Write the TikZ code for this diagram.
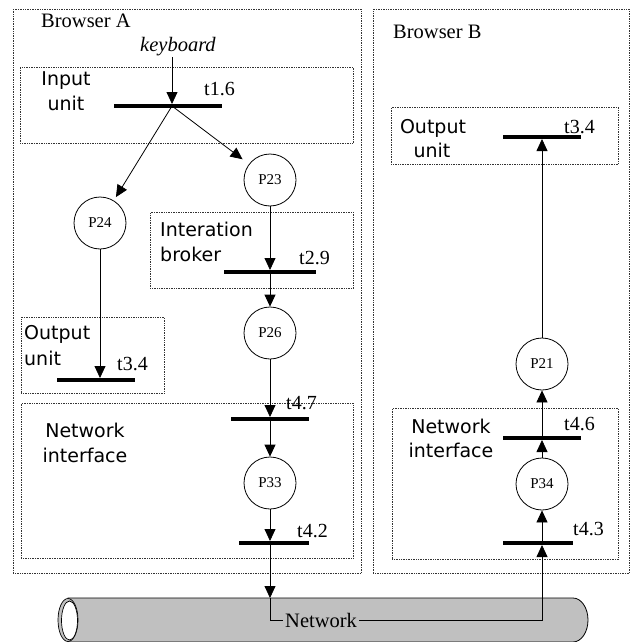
\documentclass[tikz,border=0pt]{standalone}
\usepackage{fontspec}
\setmainfont{Liberation Serif}
\newfontfamily\dvsans{DejaVu Sans}
\usetikzlibrary{arrows.meta}
\begin{document}
\begin{tikzpicture}[x=1pt,y=-1pt,
 dotbox/.style={draw=black!80, densely dotted, line width=0.7pt, inner sep=0pt, anchor=north west},
 bar/.style={fill=black, inner sep=0pt, minimum height=3.6pt},
 place/.style={circle, draw, line width=0.8pt, minimum size=52pt, inner sep=0pt, font=\fontsize{15}{18}\selectfont},
 lbl/.style={font=\dvsans\fontsize{19}{25}\selectfont, inner sep=0pt, anchor=base},
 lbll/.style={lbl, anchor=base west},
 tlbl/.style={font=\fontsize{20}{24}\selectfont, inner sep=0pt, anchor=base west},
 title/.style={font=\fontsize{20.5}{24}\selectfont, inner sep=0pt, anchor=base west},
 arr/.style={-{Triangle[length=12pt,width=11pt]}, line width=0.8pt},
 conn/.style={line width=0.8pt}]
\clip (0,0) rectangle (634,642);
\fill[white] (0,0) rectangle (634,642);

% containers
\node[dotbox, minimum width=348pt, minimum height=564pt] (browserA) at (13,9) {};
\node[dotbox, minimum width=256pt, minimum height=564pt] (browserB) at (373,9) {};
\node[dotbox, minimum width=333pt, minimum height=76pt] (inputA) at (20,67) {};
\node[dotbox, minimum width=203pt, minimum height=76pt] (broker) at (150,212) {};
\node[dotbox, minimum width=143pt, minimum height=76pt] (outA) at (21,317) {};
\node[dotbox, minimum width=332pt, minimum height=155pt] (netA) at (21,403) {};
\node[dotbox, minimum width=227pt, minimum height=57pt] (outB) at (391,107) {};
\node[dotbox, minimum width=226pt, minimum height=151pt] (netB) at (392,408) {};

% titles
\node[title] (titleA) at (41,28) {Browser A};
\node[title] (titleB) at (393,38) {Browser B};
\node[title, font=\fontsize{20.5}{24}\selectfont\itshape] (kbd) at (140,52) {keyboard};

% unit labels
\node[lbl] (inA1) at (66,85) {Input};
\node[lbl] (inA2) at (66,110) {unit};
\node[lbll] (brk1) at (160,236) {Interation};
\node[lbll] (brk2) at (160,261) {broker};
\node[lbll] (oA1) at (24,339) {Output};
\node[lbll] (oA2) at (24,365) {unit};
\node[lbl] (nA1) at (85,437) {Network};
\node[lbl] (nA2) at (85,462) {interface};
\node[lbl] (oB1) at (433,133) {Output};
\node[lbl] (oB2) at (432,157) {unit};
\node[lbl] (nB1) at (451,433) {Network};
\node[lbl] (nB2) at (451,457) {interface};

% network cylinder
\path[fill={rgb,255:red,192;green,192;blue,192}, draw=black, line width=0.8pt]
  (68,598) -- (573,598) arc[start angle=90, end angle=-90, x radius=15pt, y radius=22pt] -- (68,642) -- cycle;
\path[fill={rgb,255:red,192;green,192;blue,192}, draw=black, line width=0.7pt] (68,620) ellipse[x radius=10pt, y radius=21.5pt];
\path[fill=white, draw=black, line width=0.7pt] (69.5,620.5) ellipse[x radius=8pt, y radius=19.5pt];
\node[title, inner sep=2pt] (netlbl) at (283,627) {Network};
\coordinate (netin) at (270,598);

% transitions
\node[bar, minimum width=108pt] (t16) at (168,106) {};
\node[bar, minimum width=92pt] (t29) at (270,272) {};
\node[bar, minimum width=78pt] (t34A) at (96,380) {};
\node[bar, minimum width=78pt] (t47) at (270,419) {};
\node[bar, minimum width=70pt] (t42) at (274,543) {};
\node[bar, minimum width=78pt] (t34B) at (542,137) {};
\node[bar, minimum width=78pt] (t46) at (542,438) {};
\node[bar, minimum width=70pt] (t43) at (538,543) {};

\node[tlbl] (lt16) at (204,95) {t1.6};
\node[tlbl] (lt29) at (299,264) {t2.9};
\node[tlbl] (lt34A) at (117,370) {t3.4};
\node[tlbl] (lt47) at (286,409) {t4.7};
\node[tlbl] (lt42) at (297,537) {t4.2};
\node[tlbl] (lt34B) at (564,133) {t3.4};
\node[tlbl] (lt46) at (564,430) {t4.6};
\node[tlbl] (lt43) at (573,535) {t4.3};

% places
\node[place] (P23) at (270,180) {P23};
\node[place] (P24) at (100,223) {P24};
\node[place] (P26) at (270,333) {P26};
\node[place] (P33) at (270,483) {P33};
\node[place] (P21) at (542,364) {P21};
\node[place] (P34) at (542,484) {P34};

% arcs, browser A
\coordinate (kb) at (172,57);
\draw[arr] (kb) -- (kb |- t16.north);
\draw[arr, shorten >=4pt] (kb |- t16.center) -- (P24);
\draw[arr, shorten >=8pt] (kb |- t16.center) -- (P23);
\draw[arr] (P23.south) -- (P23 |- t29.north);
\draw[arr] (P26 |- t29.south) -- (P26.north);
\draw[arr] (P24.south) -- (P24 |- t34A.north);
\draw[arr] (P26.south) -- (P26 |- t47.north);
\draw[arr] (P33 |- t47.south) -- (P33.north);
\draw[arr] (P33.south) -- (P33 |- t42.north);
\draw[arr] (P33 |- t42.south) -- (netin);
\draw[conn] (netin) |- (netlbl.west);

% arcs, browser B
\draw[arr] (netlbl.east) -| (P34 |- t43.south);
\draw[arr] (P34 |- t43.north) -- (P34.south);
\draw[arr] (P34.north) -- (P34 |- t46.south);
\draw[arr] (P21 |- t46.north) -- (P21.south);
\draw[arr] (P21.north) -- (P21 |- t34B.south);
\end{tikzpicture}
\end{document}
